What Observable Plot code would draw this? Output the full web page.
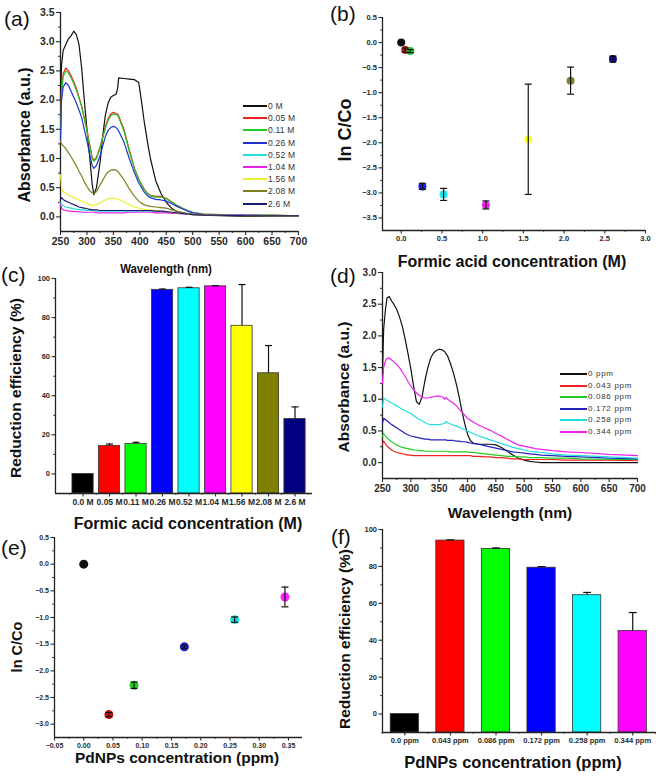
<!DOCTYPE html>
<html>
<head>
<meta charset="utf-8">
<script src="https://cdn.jsdelivr.net/npm/d3@7"></script>
<script src="https://cdn.jsdelivr.net/npm/@observablehq/plot@0.6"></script>
<style>
html,body{margin:0;padding:0;background:#fff;}
#fig{position:relative;width:659px;height:778px;overflow:hidden;font-family:"Liberation Sans",Arial,sans-serif;background:#fff;}
.panel{position:absolute;}
.ttl{position:absolute;white-space:nowrap;font-weight:bold;color:#111;line-height:1;}
.plab{position:absolute;white-space:nowrap;color:#111;line-height:1;font-size:21px;transform:translate(0,-50%);}
.leg{position:absolute;white-space:nowrap;color:#333;line-height:10px;height:10px;display:flex;align-items:center;}
.leg .sw{display:inline-block;height:2px;margin-right:1px;}
</style>
</head>
<body>
<div id="fig"></div>
<script>
// ---------------- Panel (a): UV-vis spectra vs formic acid concentration ----------------
const wlA = [250,252,255,260,265,270,275,280,285,290,295,300,305,310,313,318,325,330,335,340,345,350,355,358,360,370,380,390,398,402,408,415,420,430,440,450,460,470,480,490,500,520,550,600,650,700];
const seriesA = ["0 M","0.05 M","0.11 M","0.26 M","0.52 M","1.04 M","1.56 M","2.08 M","2.6 M"];
const colorsA = ["#111111","#ee2222","#22cc22","#2233cc","#22dddd","#ee22ee","#eeee33","#808020","#1a1a70"];
const absA_0M   = [2.0,2.6,2.85,2.95,3.05,3.1,3.18,3.12,2.95,2.55,2.0,1.5,1.05,0.55,0.38,0.5,0.95,1.4,1.75,1.95,2.05,2.08,2.1,2.2,2.38,2.37,2.36,2.35,2.3,2.05,1.65,1.25,1.0,0.62,0.4,0.25,0.15,0.09,0.06,0.05,0.04,0.03,0.02,0.01,0.01,0.01];
const absA_005M = [1.5,2.2,2.45,2.55,2.5,2.42,2.32,2.2,2.05,1.9,1.7,1.5,1.25,1.02,0.97,1.02,1.2,1.38,1.55,1.68,1.76,1.79,1.77,1.76,1.73,1.5,1.15,0.83,0.65,0.58,0.48,0.4,0.37,0.35,0.35,0.32,0.26,0.2,0.15,0.11,0.08,0.05,0.04,0.03,0.03,0.02];
const absA_011M = [1.4,2.1,2.4,2.5,2.47,2.38,2.28,2.17,2.03,1.88,1.68,1.47,1.22,1.0,0.95,1.0,1.18,1.36,1.52,1.65,1.73,1.76,1.75,1.74,1.7,1.47,1.12,0.82,0.64,0.57,0.47,0.39,0.36,0.34,0.34,0.31,0.26,0.2,0.15,0.11,0.08,0.05,0.04,0.03,0.03,0.02];
const absA_026M = [1.3,2.0,2.22,2.3,2.25,2.15,2.05,1.95,1.83,1.7,1.5,1.3,1.08,0.88,0.83,0.88,1.05,1.22,1.38,1.48,1.53,1.55,1.53,1.5,1.47,1.28,1.0,0.75,0.58,0.52,0.43,0.36,0.33,0.3,0.29,0.27,0.23,0.18,0.14,0.1,0.07,0.04,0.03,0.03,0.02,0.02];
const absA_052M = [0.25,0.22,0.19,0.17,0.16,0.15,0.14,0.13,0.13,0.12,0.12,0.11,0.11,0.11,0.11,0.1,0.1,0.1,0.1,0.1,0.1,0.1,0.1,0.1,0.1,0.1,0.1,0.1,0.1,0.1,0.1,0.1,0.1,0.09,0.09,0.08,0.07,0.06,0.06,0.05,0.05,0.04,0.03,0.03,0.02,0.02];
const absA_104M = [0.22,0.15,0.12,0.11,0.1,0.1,0.09,0.09,0.09,0.08,0.08,0.08,0.08,0.08,0.08,0.07,0.07,0.07,0.07,0.07,0.07,0.07,0.07,0.07,0.07,0.07,0.08,0.08,0.08,0.08,0.08,0.08,0.08,0.07,0.07,0.07,0.06,0.06,0.05,0.05,0.05,0.04,0.03,0.03,0.02,0.02];
const absA_156M = [0.72,0.5,0.43,0.4,0.37,0.35,0.33,0.31,0.29,0.27,0.25,0.23,0.21,0.2,0.2,0.21,0.24,0.27,0.29,0.31,0.32,0.32,0.31,0.31,0.3,0.26,0.21,0.17,0.15,0.14,0.13,0.12,0.12,0.11,0.1,0.09,0.08,0.07,0.06,0.05,0.04,0.03,0.03,0.02,0.02,0.02];
const absA_208M = [1.3,1.25,1.22,1.17,1.1,1.03,0.95,0.87,0.78,0.7,0.6,0.52,0.45,0.41,0.4,0.43,0.55,0.63,0.71,0.77,0.8,0.81,0.8,0.78,0.76,0.64,0.48,0.35,0.27,0.24,0.21,0.19,0.18,0.17,0.16,0.15,0.12,0.1,0.08,0.06,0.05,0.03,0.03,0.02,0.02,0.02];
const absA_26M  = [0.3,0.33,0.3,0.27,0.25,0.23,0.21,0.19,0.17,0.16,0.15,0.14,0.13,0.12,0.12,0.12,0.11,0.11,0.11,0.11,0.11,0.11,0.11,0.11,0.11,0.11,0.11,0.11,0.11,0.11,0.11,0.11,0.11,0.1,0.1,0.09,0.08,0.07,0.06,0.05,0.04,0.03,0.03,0.02,0.02,0.02];
const absA = [absA_0M,absA_005M,absA_011M,absA_026M,absA_052M,absA_104M,absA_156M,absA_208M,absA_26M];
const xTicksA = [250,300,350,400,450,500,550,600,650,700];
const yTicksA = [0,0.5,1.0,1.5,2.0,2.5,3.0,3.5];

// ---------------- Panel (b): ln C/Co vs formic acid concentration ----------------
const concB  = [0,0.05,0.11,0.26,0.52,1.04,1.56,2.08,2.6];
const lnB    = [0,-0.15,-0.17,-2.87,-3.03,-3.24,-1.93,-0.76,-0.33];
const errB   = [0.02,0.04,0.03,0.06,0.12,0.08,1.1,0.27,0.06];
const colorsB = ["#111111","#cc1111","#22cc22","#1a1aee","#22e5e5","#ee22ee","#ffff22","#808020","#101080"];
const xTicksB = [0,0.5,1.0,1.5,2.0,2.5,3.0];
const yTicksB = [0.5,0,-0.5,-1.0,-1.5,-2.0,-2.5,-3.0,-3.5];

// ---------------- Panel (c): reduction efficiency vs formic acid ----------------
const catsC  = ["0.0 M","0.05 M","0.11 M","0.26 M","0.52 M","1.04 M","1.56 M","2.08 M","2.6 M"];
const effC   = [0,14.3,15.3,94.2,95.0,96.0,75.8,51.5,28.1];
const errEffC = [0,1.0,0.9,0.4,0.5,0.3,21.1,14.2,6.2];
const colorsC = ["#000000","#ff0000","#00ff00","#0000ff","#00ffff","#ff00ff","#ffff00","#808000","#000080"];
const yTicksC = [0,20,40,60,80,100];

// ---------------- Panel (d): UV-vis spectra vs PdNPs concentration ----------------
const wlD = [250,252,255,258,262,266,270,275,280,285,290,295,300,305,310,315,320,325,330,335,340,345,350,355,360,362,365,370,375,380,385,390,395,400,405,410,420,430,440,450,460,470,480,490,500,510,520,530,550,575,600,650,700];
const seriesD = ["0 ppm","0.043 ppm","0.086 ppm","0.172 ppm","0.258 ppm","0.344 ppm"];
const colorsD = ["#111111","#ee2222","#22cc22","#2222bb","#22dddd","#ee22ee"];
const absD_0     = [1.4,2.1,2.4,2.6,2.62,2.55,2.5,2.42,2.3,2.15,1.95,1.72,1.48,1.2,0.96,0.92,1.05,1.3,1.5,1.65,1.73,1.77,1.79,1.78,1.75,1.72,1.68,1.56,1.42,1.25,1.05,0.82,0.62,0.45,0.35,0.31,0.29,0.29,0.29,0.28,0.24,0.18,0.12,0.07,0.04,0.02,0.01,0,0,0,0,0,0];
const absD_0043  = [0.3,0.34,0.3,0.26,0.23,0.2,0.18,0.16,0.15,0.14,0.13,0.12,0.12,0.11,0.11,0.11,0.11,0.11,0.11,0.11,0.11,0.11,0.11,0.11,0.11,0.11,0.11,0.11,0.11,0.11,0.11,0.11,0.11,0.11,0.11,0.1,0.1,0.09,0.09,0.08,0.08,0.07,0.06,0.06,0.05,0.05,0.05,0.05,0.05,0.04,0.04,0.04,0.03];
const absD_0086  = [0.42,0.46,0.42,0.39,0.36,0.33,0.31,0.28,0.26,0.24,0.23,0.22,0.21,0.2,0.2,0.19,0.19,0.18,0.18,0.18,0.18,0.18,0.18,0.18,0.18,0.18,0.18,0.17,0.17,0.17,0.17,0.17,0.17,0.17,0.16,0.16,0.15,0.14,0.13,0.12,0.11,0.1,0.1,0.09,0.09,0.08,0.08,0.08,0.07,0.07,0.06,0.05,0.05];
const absD_0172  = [0.62,0.7,0.68,0.66,0.63,0.6,0.58,0.55,0.52,0.49,0.46,0.44,0.42,0.41,0.4,0.39,0.38,0.37,0.37,0.36,0.36,0.36,0.36,0.36,0.36,0.36,0.35,0.35,0.35,0.34,0.34,0.33,0.33,0.32,0.31,0.3,0.29,0.27,0.25,0.23,0.21,0.19,0.17,0.16,0.15,0.14,0.13,0.12,0.11,0.1,0.09,0.07,0.06];
const absD_0258  = [0.88,1.02,1.0,0.98,0.96,0.94,0.92,0.9,0.87,0.84,0.82,0.8,0.78,0.74,0.71,0.68,0.66,0.63,0.61,0.6,0.6,0.6,0.6,0.61,0.62,0.65,0.63,0.61,0.59,0.58,0.56,0.54,0.52,0.5,0.48,0.46,0.42,0.39,0.36,0.33,0.3,0.27,0.24,0.22,0.2,0.18,0.17,0.16,0.14,0.12,0.11,0.09,0.07];
const absD_0344  = [1.25,1.5,1.6,1.65,1.65,1.62,1.59,1.55,1.5,1.43,1.36,1.28,1.21,1.15,1.1,1.06,1.03,1.02,1.02,1.03,1.04,1.05,1.05,1.04,1.0,1.03,1.0,0.97,0.94,0.9,0.85,0.8,0.75,0.7,0.67,0.64,0.59,0.55,0.51,0.46,0.42,0.37,0.32,0.28,0.26,0.24,0.22,0.21,0.19,0.17,0.16,0.13,0.11];
const absD = [absD_0,absD_0043,absD_0086,absD_0172,absD_0258,absD_0344];
const xTicksD = [250,300,350,400,450,500,550,600,650,700];
const yTicksD = [0,0.5,1.0,1.5,2.0,2.5,3.0];

// ---------------- Panel (e): ln C/Co vs PdNPs concentration ----------------
const concE  = [0,0.043,0.086,0.172,0.258,0.344];
const lnE    = [0,-2.82,-2.27,-1.55,-1.04,-0.615];
const errE   = [0.02,0.04,0.06,0.03,0.05,0.185];
const colorsE = ["#111111","#cc1111","#22cc22","#1a1acc","#22dddd","#ff22ff"];
const xTicksE = [-0.05,0,0.05,0.1,0.15,0.2,0.25,0.3,0.35];
const yTicksE = [0.5,0,-0.5,-1.0,-1.5,-2.0,-2.5,-3.0];

// ---------------- Panel (f): reduction efficiency vs PdNPs ----------------
const catsF  = ["0.0 ppm","0.043 ppm","0.086 ppm","0.172 ppm","0.258 ppm","0.344 ppm"];
const effF   = [0,94.0,89.5,79.3,64.4,45.0];
const errEffF = [0,0.4,0.5,0.6,1.5,10.0];
const colorsF = ["#000000","#ff0000","#00ff00","#0000ff","#00ffff","#ff00ff"];
const yTicksF = [0,20,40,60,80,100];

// ======================= helpers =======================
const fig = document.getElementById("fig");
const FONT = "Liberation Sans, Arial, sans-serif";
const capSymbol = { draw(ctx, size) { const w = Math.sqrt(size / Math.PI); ctx.moveTo(-w, 0); ctx.lineTo(w, 0); } };

function mount(svg, left, top) {
  const d = document.createElement("div");
  d.className = "panel";
  d.style.left = left + "px"; d.style.top = top + "px";
  d.appendChild(svg); fig.appendChild(d);
}
function title(text, x, y, size, rotate, sx) {
  const d = document.createElement("div");
  d.className = "ttl"; d.textContent = text;
  d.style.fontSize = size + "px"; d.style.left = x + "px"; d.style.top = y + "px";
  d.style.transform = "translate(-50%,-50%)" + (rotate ? " rotate(-90deg)" : "") + (sx ? ` scaleX(${sx})` : "");
  fig.appendChild(d);
}
function panelLabel(text, x, y) {
  const d = document.createElement("div");
  d.className = "plab"; d.textContent = text;
  d.style.left = x + "px"; d.style.top = y + "px";
  fig.appendChild(d);
}
function legend(names, colors, x, lineW, y0, step, size, spacing) {
  names.forEach((n, i) => {
    const d = document.createElement("div");
    d.className = "leg";
    d.style.left = x + "px"; d.style.top = Math.round(y0 + step * i - 5) + "px";
    d.style.fontSize = size + "px"; d.style.letterSpacing = spacing + "px";
    const sw = document.createElement("span");
    sw.className = "sw"; sw.style.width = lineW + "px"; sw.style.background = colors[i];
    const t = document.createElement("span"); t.textContent = n;
    d.appendChild(sw); d.appendChild(t); fig.appendChild(d);
  });
}
function axes(o) {
  const m = [
    Plot.axisX(o.xt, {tickSize: o.ts, tickPadding: 2, tickFormat: o.xf, label: null, fontSize: o.xfs, strokeWidth: 1.1}),
    Plot.axisY(o.yt, {tickSize: o.ts, tickPadding: 2, tickFormat: o.yf, label: null, fontSize: o.yfs, strokeWidth: 1.1}),
    Plot.ruleX([o.x0], {stroke: "#222", strokeWidth: 1.3}),
    Plot.ruleY([o.y0], {stroke: "#222", strokeWidth: 1.3})
  ];
  if (o.xm) m.push(Plot.axisX(o.xm, {tickSize: o.ts / 2, tickFormat: () => "", label: null}));
  if (o.ym) m.push(Plot.axisY(o.ym, {tickSize: o.ts / 2, tickFormat: () => "", label: null}));
  return m;
}
function baseStyle(fs) {
  return {background: "transparent", fontFamily: FONT, fontWeight: "bold", fontSize: fs + "px", color: "#2a2a2a", overflow: "visible"};
}
const f1 = d3.format(".1f"), f2 = d3.format(".2f");

// ======================= (a) =======================
const dataA = seriesA.flatMap((s, k) => wlA.map((w, i) => ({w, a: absA[k][i], s, c: colorsA[k]})));
mount(Plot.plot({
  width: 330, height: 255, marginLeft: 60, marginRight: 32, marginTop: 12, marginBottom: 24,
  x: {domain: [250, 700], label: null}, y: {domain: [-0.25, 3.5], label: null},
  color: {type: "identity"}, style: baseStyle(10.5),
  marks: [
    ...axes({xt: xTicksA, yt: yTicksA, xm: d3.range(275, 700, 50), ym: d3.range(0.25, 3.5, 0.5), xf: d => d, yf: f1, ts: 4, xfs: 10.5, yfs: 10.5, x0: 250, y0: -0.25}),
    Plot.line(dataA, {x: "w", y: "a", z: "s", stroke: "c", strokeWidth: 1.2})
  ]
}), 0, 0);
legend(seriesA, colorsA, 243, 24, 106, 12.2, 8.5, 0.2);

// ======================= (b) =======================
const dataB = concB.map((x, i) => ({x, y: lnB[i], e: errB[i], c: colorsB[i]}));
mount(Plot.plot({
  width: 329, height: 255, marginLeft: 52, marginRight: 14, marginTop: 17, marginBottom: 25,
  x: {domain: [-0.23, 3.0], label: null}, y: {domain: [-3.75, 0.5], label: null},
  color: {type: "identity"}, style: baseStyle(7.5),
  marks: [
    ...axes({xt: xTicksB, yt: yTicksB, xm: [0.25, 0.75, 1.25, 1.75, 2.25, 2.75], ym: d3.range(-3.25, 0.5, 0.5), xf: f1, yf: f1, ts: 3.5, xfs: 7.5, yfs: 7.5, x0: -0.23, y0: -3.75}),
    Plot.dot(dataB, {x: "x", y: "y", r: 4, fill: "c", stroke: "none"}),
    Plot.ruleX(dataB, {x: "x", y1: d => d.y - d.e, y2: d => d.y + d.e, stroke: "#111", strokeWidth: 1.2}),
    Plot.dot(dataB, {x: "x", y: d => d.y + d.e, symbol: capSymbol, r: 3.5, stroke: "#111", fill: "none", strokeWidth: 1.2}),
    Plot.dot(dataB, {x: "x", y: d => d.y - d.e, symbol: capSymbol, r: 3.5, stroke: "#111", fill: "none", strokeWidth: 1.2})
  ]
}), 330, 0);

// ======================= (c) =======================
const dataC = catsC.map((cat, i) => ({i, v: effC[i], e: errEffC[i], c: colorsC[i]}));
const yMinC = -10;
mount(Plot.plot({
  width: 330, height: 262, marginLeft: 55, marginRight: 18, marginTop: 23, marginBottom: 24,
  x: {domain: [-1.04, 8.66], label: null}, y: {domain: [yMinC, 100], label: null},
  color: {type: "identity"}, style: baseStyle(7.5),
  marks: [
    Plot.rectY(dataC, {x1: d => d.i - 0.4, x2: d => d.i + 0.4, y1: () => yMinC, y2: "v", fill: "c", stroke: "#333", strokeWidth: 0.8}),
    Plot.ruleX(dataC.filter(d => d.e > 0), {x: "i", y1: "v", y2: d => d.v + d.e, stroke: "#111", strokeWidth: 1.2}),
    Plot.dot(dataC.filter(d => d.e > 0), {x: "i", y: d => d.v + d.e, symbol: capSymbol, r: 3.5, stroke: "#111", fill: "none", strokeWidth: 1.2}),
    ...axes({xt: catsC.map((_, i) => i), yt: yTicksC, xm: catsC.map((_, i) => i - 0.5).concat([catsC.length - 0.5]), ym: [10, 30, 50, 70, 90], xf: i => catsC[i], yf: d => d, ts: 3.5, xfs: 8.5, yfs: 7.5, x0: -1.04, y0: yMinC})
  ]
}), 0, 255);

// ======================= (d) =======================
const dataD = seriesD.flatMap((s, k) => wlD.map((w, i) => ({w, a: absD[k][i], s, c: colorsD[k]})));
mount(Plot.plot({
  width: 329, height: 262, marginLeft: 52, marginRight: 22, marginTop: 17, marginBottom: 39,
  x: {domain: [250, 700], label: null}, y: {domain: [-0.25, 3.0], label: null},
  color: {type: "identity"}, style: baseStyle(10),
  marks: [
    ...axes({xt: xTicksD, yt: yTicksD, xm: d3.range(275, 700, 50), ym: d3.range(0.25, 3.0, 0.5), xf: d => d, yf: f1, ts: 4, xfs: 10, yfs: 10, x0: 250, y0: -0.25}),
    Plot.line(dataD, {x: "w", y: "a", z: "s", stroke: "c", strokeWidth: 1.2})
  ]
}), 330, 255);
legend(seriesD, colorsD, 560, 27, 374, 11.6, 8, 0.7);

// ======================= (e) =======================
const dataE = concE.map((x, i) => ({x, y: lnE[i], e: errE[i], c: colorsE[i]}));
mount(Plot.plot({
  width: 330, height: 250, marginLeft: 54, marginRight: 28, marginTop: 32, marginBottom: 18,
  x: {domain: [-0.05, 0.374], label: null}, y: {domain: [-3.25, 0.5], label: null},
  color: {type: "identity"}, style: baseStyle(7),
  marks: [
    ...axes({xt: xTicksE, yt: yTicksE, xm: [-0.025, 0.025, 0.075, 0.125, 0.175, 0.225, 0.275, 0.325], ym: d3.range(-2.75, 0.5, 0.5), xf: f2, yf: f1, ts: 3.5, xfs: 7, yfs: 7, x0: -0.05, y0: -3.25}),
    Plot.dot(dataE, {x: "x", y: "y", r: 4.5, fill: "c", stroke: "none"}),
    Plot.ruleX(dataE, {x: "x", y1: d => d.y - d.e, y2: d => d.y + d.e, stroke: "#111", strokeWidth: 1.2}),
    Plot.dot(dataE, {x: "x", y: d => d.y + d.e, symbol: capSymbol, r: 3.5, stroke: "#111", fill: "none", strokeWidth: 1.2}),
    Plot.dot(dataE, {x: "x", y: d => d.y - d.e, symbol: capSymbol, r: 3.5, stroke: "#111", fill: "none", strokeWidth: 1.2})
  ]
}), 0, 505);

// ======================= (f) =======================
const dataF = catsF.map((cat, i) => ({i, v: effF[i], e: errEffF[i], c: colorsF[i]}));
const yMinF = -10;
mount(Plot.plot({
  width: 329, height: 250, marginLeft: 52, marginRight: 4, marginTop: 24, marginBottom: 23,
  x: {domain: [-0.49, 5.5], label: null}, y: {domain: [yMinF, 100], label: null},
  color: {type: "identity"}, style: baseStyle(7.5),
  marks: [
    Plot.rectY(dataF, {x1: d => d.i - 0.31, x2: d => d.i + 0.31, y1: () => yMinF, y2: "v", fill: "c", stroke: "#333", strokeWidth: 0.8}),
    Plot.ruleX(dataF.filter(d => d.e > 0), {x: "i", y1: "v", y2: d => d.v + d.e, stroke: "#111", strokeWidth: 1.2}),
    Plot.dot(dataF.filter(d => d.e > 0), {x: "i", y: d => d.v + d.e, symbol: capSymbol, r: 4, stroke: "#111", fill: "none", strokeWidth: 1.2}),
    ...axes({xt: catsF.map((_, i) => i), yt: yTicksF, xm: catsF.map((_, i) => i - 0.5).concat([catsF.length - 0.5]), ym: [10, 30, 50, 70, 90], xf: i => catsF[i], yf: d => d, ts: 3.5, xfs: 7.5, yfs: 7.5, x0: -0.49, y0: yMinF})
  ]
}), 330, 505);

// ======================= titles and panel labels =======================
title("Absorbance (a.u.)", 25, 135, 16, true);
title("Wavelength (nm)", 166, 268, 13, false, 0.88);
title("ln C/Co", 345, 130, 18, true);
title("Formic acid concentration (M)", 512, 262, 16);
title("Reduction efficiency (%)", 16, 388, 15.5, true);
title("Formic acid concentration (M)", 188, 524, 16);
title("Absorbance (a.u.)", 344, 387, 15.5, true);
title("Wavelength (nm)", 510, 513, 15.5);
title("ln C/Co", 17, 647, 14.5, true);
title("PdNPs concentration (ppm)", 177, 758, 15.5);
title("Reduction efficiency (%)", 345, 639, 15.5, true);
title("PdNPs concentration (ppm)", 513, 762, 16.5);

panelLabel("(a)", 4, 18);
panelLabel("(b)", 330, 13);
panelLabel("(c)", 1, 274);
panelLabel("(d)", 330, 275);
panelLabel("(e)", 1, 547);
panelLabel("(f)", 331, 536);
</script>
</body>
</html>
